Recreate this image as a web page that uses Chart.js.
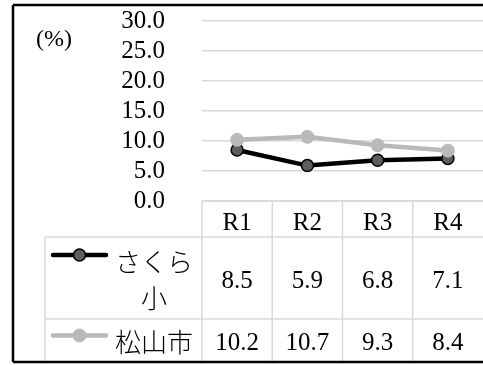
<!DOCTYPE html>
<html lang="ja">
<head>
<meta charset="utf-8">
<title>さくら小・松山市</title>
<script src="https://cdn.jsdelivr.net/npm/chart.js@4/dist/chart.umd.min.js"></script>
<style>
  html, body { margin: 0; padding: 0; background: #fff; overflow: hidden; }
  #wrap { position: relative; width: 483px; height: 365px; }
</style>
</head>
<body>
<div id="wrap"><canvas id="c" width="483" height="365"></canvas></div>
<script>
// --- data ---
const categories = ['R1', 'R2', 'R3', 'R4'];
const seriesNames = ['さくら小', '松山市'];
const sakuraValues = [8.5, 5.9, 6.8, 7.1];
const matsuyamaValues = [10.2, 10.7, 9.3, 8.4];
const yTickValues = [0, 5, 10, 15, 20, 25, 30];
const unitLabel = '(%)';

// --- styling ---
const FONT = "'Liberation Serif', 'Noto Sans CJK JP', serif";
const CJK_FONT = "'Noto Sans CJK JP', 'Liberation Serif', sans-serif";
const GRID = '#d9d9d9';
const seriesStyle = [
  { line: '#000000', fill: '#5e5e5e', edge: '#000000', edgeWidth: 1.5, radius: 6 },
  { line: '#b9b9b9', fill: '#b9b9b9', edge: '#b9b9b9', edgeWidth: 1, radius: 6.5 }
];
const seriesValues = [sakuraValues, matsuyamaValues];

// Split a label into lines that fit a given width (character wrap)
function wrapText(ctx, text, maxWidth) {
  const lines = [];
  let cur = '';
  for (const ch of text) {
    if (cur && ctx.measureText(cur + ch).width > maxWidth) {
      lines.push(cur);
      cur = ch;
    } else {
      cur += ch;
    }
  }
  if (cur) lines.push(cur);
  return lines;
}

// Data table under the plot, plus the unit label and outer frame
const tablePlugin = {
  id: 'dataTable',
  afterDraw(chart) {
    const { ctx, chartArea: a, scales: { x } } = chart;
    const n = categories.length;
    const colW = (a.right - a.left) / n;
    const top = a.bottom;          // header row top
    const row1Top = top + 36;
    const row2Top = row1Top + 82;
    const bottom = 362;
    const labelLeft = 45;
    const rowTops = [row1Top, row2Top];
    const rowBottoms = [row2Top, bottom];
    const farRight = chart.width;

    ctx.save();
    // grid lines of the table
    ctx.strokeStyle = GRID;
    ctx.lineWidth = 1.5;
    ctx.beginPath();
    ctx.moveTo(a.left, top); ctx.lineTo(farRight, top);
    ctx.moveTo(labelLeft, row1Top); ctx.lineTo(farRight, row1Top);
    ctx.moveTo(labelLeft, row2Top); ctx.lineTo(farRight, row2Top);
    ctx.moveTo(labelLeft, row1Top); ctx.lineTo(labelLeft, bottom);
    for (let i = 0; i < n; i++) {
      const xx = a.left + i * colW;
      ctx.moveTo(xx, top); ctx.lineTo(xx, bottom);
    }
    ctx.stroke();

    // header: categories
    ctx.fillStyle = '#000';
    ctx.textAlign = 'center';
    ctx.textBaseline = 'middle';
    ctx.font = '25px ' + FONT;
    categories.forEach((c, i) => {
      ctx.fillText(c, x.getPixelForValue(i), top + 22);
    });

    // series rows
    seriesNames.forEach((name, s) => {
      const st = seriesStyle[s];
      const rowMid = (rowTops[s] + rowBottoms[s]) / 2 + 2;

      // values
      ctx.font = '25px ' + FONT;
      ctx.fillStyle = '#000';
      ctx.textAlign = 'center';
      seriesValues[s].forEach((v, i) => {
        ctx.fillText(v.toFixed(1), x.getPixelForValue(i), rowMid + 1);
      });

      // name, wrapped
      ctx.font = '300 26px ' + CJK_FONT;
      const lines = wrapText(ctx, name, 82);
      const lh = 36;
      const firstY = rowMid - (lines.length - 1) * lh / 2;
      lines.forEach((ln, k) => {
        ctx.fillText(ln, 154, firstY + k * lh);
      });

      // legend key
      const ky = firstY - 7;
      ctx.strokeStyle = st.line;
      ctx.lineWidth = 4.5;
      ctx.lineCap = 'round';
      ctx.beginPath();
      ctx.moveTo(53, ky); ctx.lineTo(106, ky);
      ctx.stroke();
      ctx.beginPath();
      ctx.arc(79.5, ky, st.radius, 0, Math.PI * 2);
      ctx.fillStyle = st.fill;
      ctx.fill();
      ctx.lineWidth = st.edgeWidth;
      ctx.strokeStyle = st.edge;
      ctx.stroke();
    });

    // unit label
    ctx.fillStyle = '#000';
    ctx.font = '24px ' + FONT;
    ctx.textAlign = 'center';
    ctx.textBaseline = 'middle';
    ctx.fillText(unitLabel, 54, 40);

    // outer frame: left, top and bottom edges
    ctx.strokeStyle = '#000';
    ctx.lineWidth = 2.5;
    ctx.lineCap = 'butt';
    ctx.beginPath();
    ctx.moveTo(farRight, 5); ctx.lineTo(13, 5);
    ctx.moveTo(13, 5); ctx.lineTo(13, 362);
    ctx.moveTo(13, 362); ctx.lineTo(farRight, 362);
    ctx.stroke();
    ctx.restore();
  }
};

new Chart(document.getElementById('c'), {
  type: 'line',
  data: {
    labels: categories,
    datasets: seriesNames.map((name, s) => ({
      label: name,
      data: seriesValues[s],
      borderColor: seriesStyle[s].line,
      borderWidth: 4.5,
      backgroundColor: seriesStyle[s].fill,
      pointBackgroundColor: seriesStyle[s].fill,
      pointBorderColor: seriesStyle[s].edge,
      pointBorderWidth: seriesStyle[s].edgeWidth,
      pointRadius: seriesStyle[s].radius,
      pointHoverRadius: seriesStyle[s].radius,
      tension: 0,
      fill: false,
      clip: false,
      order: s === 0 ? 1 : 0
    }))
  },
  options: {
    responsive: false,
    devicePixelRatio: 1,
    animation: false,
    events: [],
    layout: { autoPadding: false, padding: { top: 21, right: -2, bottom: 164, left: 0 } },
    plugins: {
      legend: { display: false },
      tooltip: { enabled: false }
    },
    scales: {
      x: {
        display: false,
        offset: true
      },
      y: {
        min: 0,
        max: 30,
        afterBuildTicks(scale) {
          scale.ticks = yTickValues.map(v => ({ value: v }));
        },
        afterFit(scale) {
          scale.width = 202;
          scale.paddingTop = 0;
          scale.paddingBottom = 0;
        },
        border: { display: false },
        grid: { color: GRID, lineWidth: 1.5, drawTicks: false },
        ticks: {
          padding: 37,
          autoSkip: false,
          color: '#000',
          font: { family: FONT, size: 25, lineHeight: 1 },
          callback: v => Number(v).toFixed(1)
        }
      }
    }
  },
  plugins: [tablePlugin]
});
</script>
</body>
</html>
